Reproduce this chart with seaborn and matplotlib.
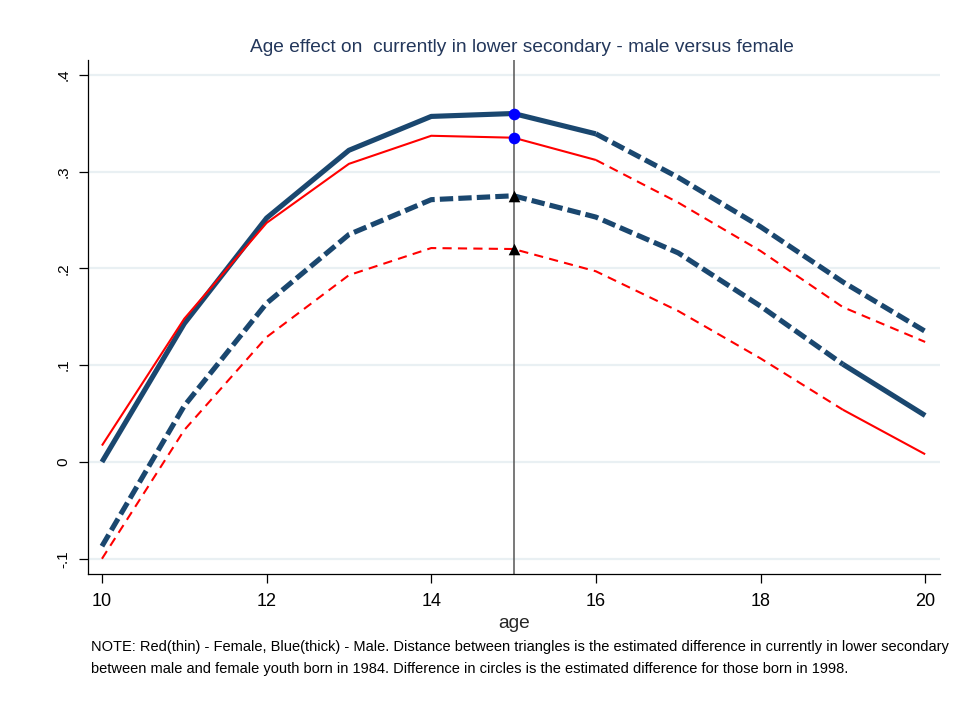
import matplotlib
matplotlib.use("Agg")
import matplotlib.pyplot as plt
import seaborn as sns
import pandas as pd

# Predicted share currently in lower secondary, by age
ages = [10, 11, 12, 13, 14, 15, 16, 17, 18, 19, 20]
male_1998 = [0.000, 0.143, 0.252, 0.322, 0.357, 0.360, 0.339, 0.294, 0.243, 0.186, 0.135]
female_1998 = [0.017, 0.148, 0.247, 0.308, 0.337, 0.335, 0.312, 0.268, 0.218, 0.160, 0.124]
male_1984 = [-0.087, 0.058, 0.164, 0.235, 0.271, 0.275, 0.253, 0.216, 0.161, 0.101, 0.048]
female_1984 = [-0.100, 0.033, 0.129, 0.193, 0.221, 0.220, 0.197, 0.156, 0.107, 0.054, 0.008]

# Age ranges drawn solid (observed) for each cohort; the rest is dashed
solid_1998 = (10, 16)
solid_1984 = (19, 20)
marker_age = 15

yticks = [-0.1, 0, 0.1, 0.2, 0.3, 0.4]
ytick_labels = ["-.1", "0", ".1", ".2", ".3", ".4"]
xticks = [10, 12, 14, 16, 18, 20]

title = "Age effect on  currently in lower secondary - male versus female"
note_lines = [
    "NOTE: Red(thin) - Female, Blue(thick) - Male. Distance between triangles is the estimated difference in currently in lower secondary",
    "between male and female youth born in 1984. Difference in circles is the estimated difference for those born in 1998.",
]

df = pd.DataFrame({"age": ages, "male_1998": male_1998, "female_1998": female_1998,
                   "male_1984": male_1984, "female_1984": female_1984})

sns.set_style("white")
plt.rcParams["font.family"] = ["Liberation Sans", "DejaVu Sans"]

NAVY = "#1a476f"
RED = "#ff0000"

fig = plt.figure(figsize=(9.54, 7.04), dpi=100)
ax = fig.add_axes([0.0922, 0.1847, 0.8931, 0.7301])

styles = {
    "male": dict(color=NAVY, lw=3.7, dash=(2.6, 1.0)),
    "female": dict(color=RED, lw=1.5, dash=(4.4, 3.0)),
}


def draw_series(col, kind, solid_range):
    st = styles[kind]
    lo, hi = solid_range
    solid = df[(df.age >= lo) & (df.age <= hi)]
    before = df[df.age <= lo]
    after = df[df.age >= hi]
    sns.lineplot(data=solid, x="age", y=col, ax=ax, color=st["color"], lw=st["lw"],
                 linestyle="-", solid_capstyle="butt", zorder=3)
    for part in (before, after):
        if len(part) > 1:
            sns.lineplot(data=part, x="age", y=col, ax=ax, color=st["color"], lw=st["lw"],
                         linestyle=(0, st["dash"]), zorder=3)


draw_series("male_1998", "male", solid_1998)
draw_series("female_1998", "female", solid_1998)
draw_series("male_1984", "male", solid_1984)
draw_series("female_1984", "female", solid_1984)

ax.axvline(marker_age, color="#555555", lw=1.1, zorder=2)

pt = df[df.age == marker_age]
circles = pd.DataFrame({"age": [marker_age] * 2,
                        "val": [pt.male_1998.iloc[0], pt.female_1998.iloc[0]]})
triangles = pd.DataFrame({"age": [marker_age] * 2,
                          "val": [pt.male_1984.iloc[0], pt.female_1984.iloc[0]]})
sns.scatterplot(data=circles, x="age", y="val", ax=ax, color="#0000ff", marker="o",
                s=70, linewidth=0, zorder=5)
sns.scatterplot(data=triangles, x="age", y="val", ax=ax, color="black", marker="^",
                s=70, linewidth=0, zorder=5)

ax.set_xlim(9.83, 20.18)
ax.set_ylim(-0.1157, 0.4153)
ax.set_yticks(yticks)
ax.set_yticklabels(ytick_labels, rotation=90, va="center")
ax.set_xticks(xticks)
ax.grid(axis="y", color="#e9f0f3", lw=1.6, zorder=0)
ax.grid(axis="x", visible=False)
ax.set_axisbelow(True)

for side in ("top", "right"):
    ax.spines[side].set_visible(False)
for side in ("left", "bottom"):
    ax.spines[side].set_color("black")
    ax.spines[side].set_linewidth(0.9)

ax.tick_params(axis="both", which="major", length=6.5, width=0.9, color="black",
               labelcolor="black", left=True, bottom=True)
ax.tick_params(axis="x", labelsize=13, pad=7)
ax.tick_params(axis="y", labelsize=11, pad=6)
ax.set_xlabel("age", fontsize=13.8, labelpad=3.5)
ax.set_ylabel("")

fig.text(0.547, 1 - 52 / 704, title, ha="center", va="baseline", fontsize=13.8,
         color="#23375b")
for i, line in enumerate(note_lines):
    fig.text(0.0955, 1 - (651 + 22.5 * i) / 704, line, ha="left", va="baseline",
             fontsize=10.5, color="black")

fig.savefig("out.png", dpi=100, facecolor="white")
